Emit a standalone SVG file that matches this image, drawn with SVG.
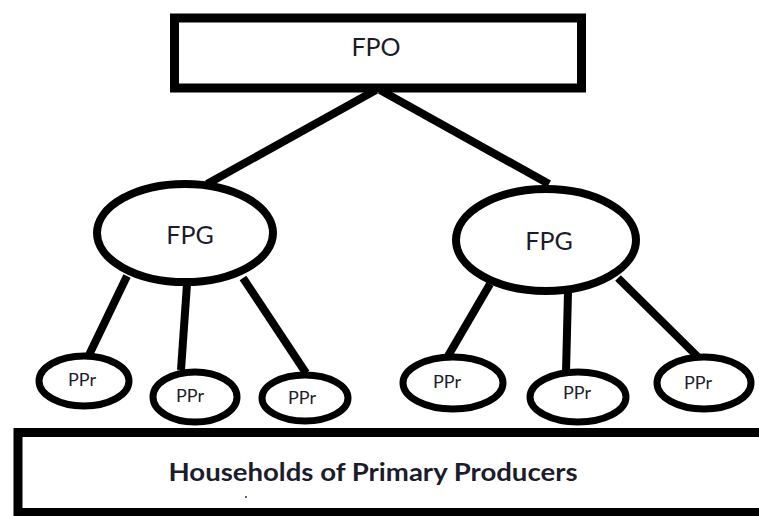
<svg xmlns="http://www.w3.org/2000/svg" width="759" height="516" viewBox="0 0 759 516">
<style>
.box{fill:#fff;stroke:#000;stroke-width:9}
.big{fill:#fff;stroke:#000;stroke-width:8}
.small{fill:#fff;stroke:#000;stroke-width:7}
.c{stroke:#000;stroke-width:8;stroke-linecap:butt;fill:none}
text{font-family:Lato,"Open Sans",sans-serif;fill:#1c1c2c;text-anchor:middle}
.t1{font-size:25px}
.t2{font-size:18px}
.t3{font-size:25px;font-weight:bold}
</style>
<rect width="759" height="516" fill="#fff"/>
<g id="connectors">
<line class="c" x1="376" y1="90" x2="207" y2="184"/>
<line class="c" x1="380" y1="90" x2="549" y2="184"/>
<line class="c" x1="127" y1="276" x2="89" y2="355"/>
<line class="c" x1="187" y1="284" x2="181" y2="370"/>
<line class="c" x1="243" y1="278" x2="306" y2="373"/>
<line class="c" x1="490" y1="284" x2="448" y2="356"/>
<line class="c" x1="568" y1="292" x2="566" y2="372"/>
<line class="c" x1="618" y1="278" x2="699" y2="358"/>
</g>
<g id="fpo">
<rect class="box" x="174.5" y="18" width="407" height="70"/>
<text class="t1" x="376" y="56">FPO</text>
</g>
<g id="fpg1">
<ellipse class="big" cx="185" cy="233" rx="88" ry="49"/>
<text class="t1" x="190" y="244">FPG</text>
</g>
<g id="fpg2">
<ellipse class="big" cx="546" cy="240" rx="90" ry="51"/>
<text class="t1" x="549" y="250">FPG</text>
</g>
<g id="ppr1">
<ellipse class="small" cx="84" cy="381" rx="45" ry="25"/>
<text class="t2" x="82" y="386">PPr</text>
</g>
<g id="ppr2">
<ellipse class="small" cx="195" cy="397" rx="42" ry="25"/>
<text class="t2" x="190" y="402">PPr</text>
</g>
<g id="ppr3">
<ellipse class="small" cx="305" cy="398" rx="43" ry="23"/>
<text class="t2" x="302" y="404">PPr</text>
</g>
<g id="ppr4">
<ellipse class="small" cx="453" cy="383" rx="50" ry="26"/>
<text class="t2" x="447" y="388">PPr</text>
</g>
<g id="ppr5">
<ellipse class="small" cx="578" cy="397" rx="48" ry="25"/>
<text class="t2" x="577" y="399">PPr</text>
</g>
<g id="ppr6">
<ellipse class="small" cx="704" cy="383" rx="47" ry="26"/>
<text class="t2" x="698" y="389">PPr</text>
</g>
<g id="households">
<rect class="box" x="18" y="432.5" width="760" height="80" stroke-width="10"/>
<text class="t3" x="373" y="481" textLength="409" lengthAdjust="spacingAndGlyphs">Households of Primary Producers</text>
<circle cx="246" cy="497" r="1" fill="#333"/>
</g>
</svg>
